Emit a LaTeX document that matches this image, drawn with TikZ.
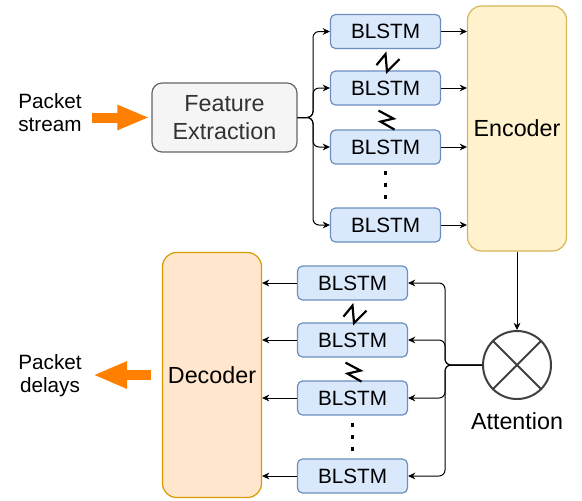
\documentclass[tikz,border=0pt]{standalone}
\usepackage{fontspec}
\setmainfont{Liberation Sans}
\usetikzlibrary{arrows.meta,positioning}

\definecolor{blfill}{HTML}{DAE8FC}
\definecolor{blline}{HTML}{6C8EBF}
\definecolor{encfill}{HTML}{FFF2CC}
\definecolor{encline}{HTML}{D6B656}
\definecolor{decfill}{HTML}{FFE6CC}
\definecolor{decline}{HTML}{D79B00}
\definecolor{featfill}{HTML}{F5F5F5}
\definecolor{featline}{HTML}{666666}
\definecolor{feattext}{HTML}{333333}
\definecolor{fatorange}{HTML}{FF8000}

\begin{document}
\begin{tikzpicture}[
  >={Stealth[length=3.6pt,width=3.4pt]},
  x=0.5pt,y=-0.5pt,
  font=\fontsize{10.35}{11.5}\selectfont,
  big/.style={font=\fontsize{11.65}{14}\selectfont},
  blstm/.style={rounded corners=2.5pt, draw=blline, fill=blfill, line width=0.6pt,
                minimum width=55pt, minimum height=17pt, inner sep=0pt},
  feat/.style={big, rounded corners=5pt, draw=featline, fill=featfill, line width=0.6pt,
               text=feattext, align=center, minimum width=72.5pt, minimum height=34.5pt,
               inner sep=0pt},
  coder/.style={big, rounded corners=7pt, line width=0.6pt, minimum width=49.5pt,
                minimum height=122.5pt, inner sep=0pt},
  txt/.style={align=center, inner sep=0pt},
  arr/.style={->, line width=0.5pt, rounded corners=3pt},
  fat/.style={line width=5pt, draw=fatorange},
  brk/.style={line width=1.1pt, line join=miter},
]
\useasboundingbox (0,0) rectangle (582,500);

% ---------------- Encoder side ----------------
\def\xu{385.5}   % upper BLSTM column
\def\xd{352.5}   % lower BLSTM column

\node[txt] (stream) at (50,113) {Packet\\stream};
\node[feat] (fe) at (224.5,117.5) {Feature\\Extraction};

\node[blstm] (u1) at (\xu,31.5) {BLSTM};
\node[blstm] (u2) at (\xu,88)   {BLSTM};
\node[blstm] (u3) at (\xu,147)  {BLSTM};
\node[blstm] (u4) at (\xu,225)  {BLSTM};

\node[coder, draw=encline, fill=encfill] (enc) at (517,128.5) {Encoder};

% fat input arrow
\draw[fat, -{Triangle[length=16pt,width=11.5pt]}, shorten <=5pt, shorten >=1pt]
  (fe.west -| stream.east) -- (fe.west);

% fan out to the BLSTMs
\coordinate (fsplit) at (313,117.5);
\draw[arr] (fe.east) -- (fsplit) |- (u1.west);
\draw[arr] (fe.east) -- (fsplit) |- (u2.west);
\draw[arr] (fe.east) -- (fsplit) |- (u3.west);
\draw[arr] (fe.east) -- (fsplit) |- (u4.west);

% into the encoder
\draw[arr] (u1.east) -- (u1.east -| enc.west);
\draw[arr] (u2.east) -- (u2.east -| enc.west);
\draw[arr] (u3.east) -- (u3.east -| enc.west);
\draw[arr] (u4.east) -- (u4.east -| enc.west);

% breaks between the cells
\draw[brk, shift={(u1.south)}] (-9,16) -- (0,5) -- (1.5,22.5) -- (14,10);
\draw[brk, shift={(u2.south)}] (-7,5) -- (8,13) -- (-5,16) -- (9,24);
\foreach \dy in {173,185,197}
  \fill (\xu-1.8,\dy-1.8) rectangle ++(3.6,3.6);

% ---------------- Attention ----------------
\node[circle, draw=black!75, line width=1pt, minimum size=34pt, inner sep=0pt]
  (att) at (517,365) {};
\draw[black!75, line width=1pt] (att.45) -- (att.225);
\draw[black!75, line width=1pt] (att.135) -- (att.-45);
\node[big, txt, below=6pt of att] (attlbl) {Attention};

\draw[arr] (enc.south) -- (att.north);

% ---------------- Decoder side ----------------
\node[blstm] (d1) at (\xd,283) {BLSTM};
\node[blstm] (d2) at (\xd,340) {BLSTM};
\node[blstm] (d3) at (\xd,398) {BLSTM};
\node[blstm] (d4) at (\xd,476) {BLSTM};

\node[coder, draw=decline, fill=decfill] (dec) at (212,375) {Decoder};
\node[txt] (delays) at (50,376) {Packet\\delays};

% fan in from attention
\coordinate (asplit) at (445,365);
\draw[arr] (att.west) -- (asplit) |- (d1.east);
\draw[arr] (att.west) -- (asplit) |- (d2.east);
\draw[arr] (att.west) -- (asplit) |- (d3.east);
\draw[arr] (att.west) -- (asplit) |- (d4.east);

% into the decoder
\draw[arr] (d1.west) -- (d1.west -| dec.east);
\draw[arr] (d2.west) -- (d2.west -| dec.east);
\draw[arr] (d3.west) -- (d3.west -| dec.east);
\draw[arr] (d4.west) -- (d4.west -| dec.east);

\draw[brk, shift={(d1.south)}] (-9,16) -- (0,5) -- (1.5,22.5) -- (14,10);
\draw[brk, shift={(d2.south)}] (-7,5) -- (8,13) -- (-5,16) -- (9,24);
\foreach \dy in {425,437,449}
  \fill (\xd-1.8,\dy-1.8) rectangle ++(3.6,3.6);

% fat output arrow
\draw[fat, -{Triangle[length=17pt,width=12.5pt]}, shorten <=5.5pt, shorten >=5.5pt]
  (dec.west) -- (dec.west -| delays.east);

\end{tikzpicture}
\end{document}
